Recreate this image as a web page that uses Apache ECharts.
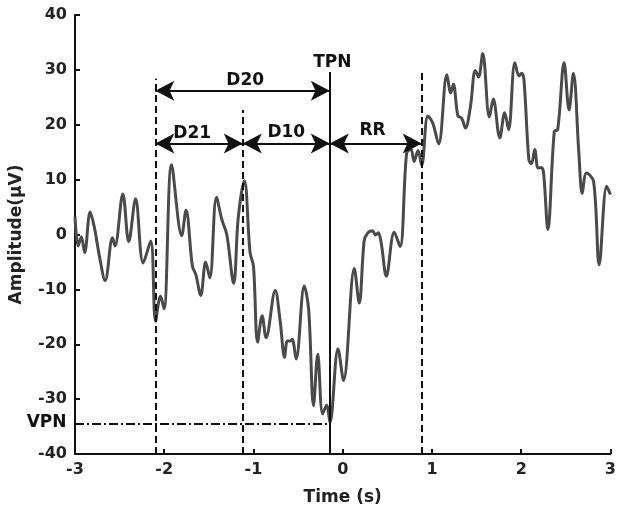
<!DOCTYPE html>
<html>
<head>
<meta charset="utf-8">
<script src="https://cdn.jsdelivr.net/npm/echarts@6/dist/echarts.min.js"></script>
<style>
html, body { margin: 0; padding: 0; background: #fff; }
#chart { width: 619px; height: 511px; }
</style>
</head>
<body>
<div id="chart"></div>
<script>
// signal (peaks / troughs)
var times = [
	-3.00, -2.965, -2.929, -2.892, -2.830, -2.782, -2.727, -2.662, -2.580, -2.552,
	-2.464, -2.398, -2.321, -2.236, -2.152, -2.097, -2.042, -2.002, -1.918, -1.804,
	-1.756, -1.684, -1.646, -1.591, -1.536, -1.489, -1.415, -1.354, -1.299, -1.222,
	-1.170, -1.102, -1.038, -1.000, -0.954, -0.903, -0.859, -0.756, -0.703, -0.651,
	-0.621, -0.585, -0.566, -0.522, -0.431, -0.382, -0.327, -0.280, -0.225, -0.181,
	-0.143, -0.053, 0.009, 0.130, 0.185, 0.240, 0.277, 0.332, 0.368, 0.398,
	0.431, 0.489, 0.577, 0.643, 0.716, 0.764, 0.800, 0.844, 0.885, 0.954,
	1.009, 1.075, 1.167, 1.211, 1.240, 1.291, 1.332, 1.376, 1.431, 1.486,
	1.522, 1.569, 1.643, 1.687, 1.760, 1.815, 1.859, 1.929, 1.976, 2.005,
	2.031, 2.086, 2.115, 2.152, 2.189, 2.225, 2.251, 2.299, 2.371, 2.409,
	2.481, 2.536, 2.585, 2.646, 2.684, 2.731, 2.811, 2.874, 2.958, 3.00
];
var amplitude = [
	3.3, -2.1, -0.4, -3.3, 4.1, 1.2, -3.9, -8.4, -0.6, -2.1,
	7.4, -1.3, 6.5, -5.2, -1.2, -15.8, -11.2, -13.5, 12.7, -0.2,
	4.4, -5.8, -7.3, -11.1, -5.0, -7.9, 6.8, 2.7, 0.0, -8.9,
	3.2, 9.8, -3.3, -5.8, -19.6, -14.8, -18.8, -10.2, -15.5, -22.4,
	-19.4, -19.4, -19.1, -22.7, -9.4, -13.6, -31.2, -21.8, -32.7, -31.1,
	-34.2, -20.8, -26.6, -6.2, -12.5, -1.2, 0.2, 0.7, -0.1, 0.3,
	-1.5, -7.6, 0.4, -2.2, 14.8, 15.6, 13.3, 15.3, 12.6, 21.6,
	20.3, 16.5, 29.1, 25.8, 27.4, 21.6, 21.2, 19.4, 23.3, 29.9,
	28.7, 33.0, 21.4, 24.7, 17.6, 22.2, 19.1, 31.3, 28.9, 29.4,
	28.2, 13.6, 12.9, 15.5, 12.1, 12.2, 11.2, 0.9, 18.8, 19.1,
	31.3, 22.7, 29.4, 14.9, 7.5, 11.2, 9.7, -5.5, 8.8, 7.3
];

// annotation positions in data units
var t2 = -2.10, t1 = -1.12, tpn = -0.145, tRR = 0.885;
var vpn = -34.4;
var lineTops = [28.4, 22.7, 29.6, 29.8];
var yD20 = 26.2, yShort = 16.6;
var xTicks = [-3, -2, -1, 0, 1, 2, 3];
var yTicks = [-40, -30, -20, -10, 0, 10, 20, 30, 40];

var font = 'DejaVu Sans';
var ink = '#111';

var chart = echarts.init(document.getElementById('chart'));

function seg(x1, y1, x2, y2, style, arrows) {
	var s = arrows ? 'arrow' : 'none';
	return [
		{ coord: [x1, y1], symbol: s, lineStyle: style },
		{ coord: [x2, y2], symbol: s }
	];
}
var dashed = { color: ink, width: 2, type: [7, 4] };
var solid = { color: ink, width: 2, type: 'solid' };
var dashDot = { color: ink, width: 1.8, type: [9, 3, 2, 3] };

function tag(x, y, text, pos) {
	return { coord: [x, y], value: text, label: pos ? { position: pos, distance: 8 } : undefined };
}

chart.setOption({
	animation: false,
	grid: { left: 74, right: 0, top: 15, bottom: 56 },
	xAxis: {
		type: 'value',
		min: xTicks[0], max: xTicks[xTicks.length - 1], interval: 1,
		name: 'Time (s)', nameLocation: 'middle', nameGap: 35,
		nameTextStyle: { fontFamily: font, fontWeight: 'bold', fontSize: 17, color: '#222' },
		axisLine: { onZero: false, lineStyle: { color: ink, width: 2 } },
		axisTick: { inside: true, length: 5, lineStyle: { color: ink, width: 2 } },
		axisLabel: { fontFamily: font, fontWeight: 'bold', fontSize: 16, color: '#222', margin: 8 },
		splitLine: { show: false }
	},
	yAxis: {
		type: 'value',
		min: yTicks[0], max: yTicks[yTicks.length - 1], interval: 10,
		name: 'Amplitude(μV)', nameLocation: 'middle', nameGap: 50,
		nameTextStyle: { fontFamily: font, fontWeight: 'bold', fontSize: 17, color: '#222' },
		axisLine: { show: true, onZero: false, lineStyle: { color: ink, width: 2 } },
		axisTick: { show: true, inside: true, length: 5, lineStyle: { color: ink, width: 2 } },
		axisLabel: { fontFamily: font, fontWeight: 'bold', fontSize: 16, color: '#222', margin: 8 },
		splitLine: { show: false }
	},
	series: [{
		type: 'line',
		data: times.map(function (t, i) { return [t, amplitude[i]]; }),
		showSymbol: false,
		smooth: 0.35,
		clip: false,
		lineStyle: { color: '#4a4a4a', width: 3 },
		markLine: {
			silent: true,
			symbol: ['none', 'none'],
			symbolSize: [15, 19],
			label: { show: false },
			data: [
				seg(t2, -40, t2, lineTops[0], dashed),
				seg(t1, -40, t1, lineTops[1], dashed),
				seg(tpn, -40, tpn, lineTops[2], solid),
				seg(tRR, -40, tRR, lineTops[3], dashed),
				seg(-3, vpn, tpn, vpn, dashDot),
				seg(t2, yD20, tpn, yD20, solid, true),
				seg(t2, yShort, t1, yShort, solid, true),
				seg(t1, yShort, tpn, yShort, solid, true),
				seg(tpn, yShort, tRR, yShort, solid, true)
			]
		},
		markPoint: {
			silent: true,
			symbol: 'circle',
			symbolSize: 1,
			itemStyle: { color: 'transparent' },
			label: {
				show: true, position: 'inside', formatter: '{c}',
				fontFamily: font, fontWeight: 'bold', fontSize: 17, color: ink
			},
			data: [
				tag(-1.093, 28.0, 'D20'),
				tag(-1.687, 18.4, 'D21'),
				tag(-0.632, 18.5, 'D10'),
				tag(0.335, 18.9, 'RR'),
				tag(-0.116, 31.3, 'TPN'),
				tag(-3, -34.3, 'VPN', 'left')
			]
		}
	}]
});
</script>
</body>
</html>
